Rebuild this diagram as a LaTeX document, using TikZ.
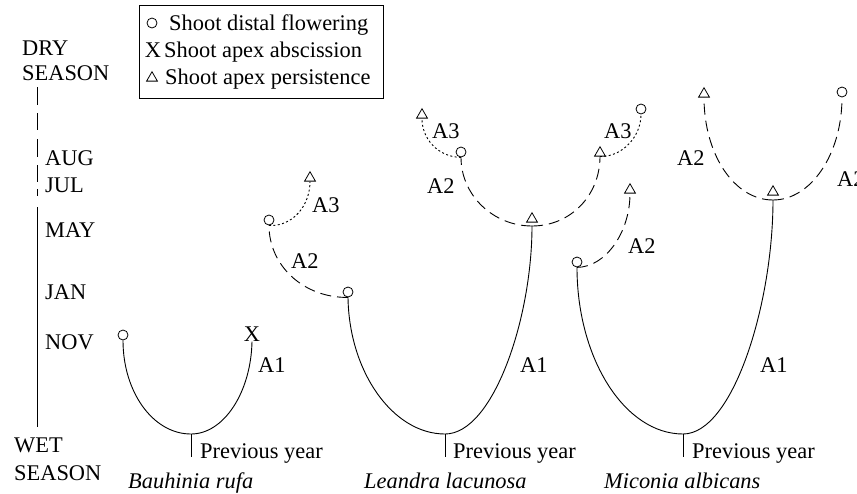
\documentclass[tikz,border=0pt]{standalone}
\usepackage{fontspec}
\setmainfont{Liberation Serif}
\usetikzlibrary{shapes.geometric}
\begin{document}
\begin{tikzpicture}[x=1pt,y=-1pt,
  lbl/.style={anchor=base west, inner sep=0pt, font=\fontsize{22.4}{26}\selectfont},
  fl/.style={draw, circle, minimum size=10pt, inner sep=0pt, line width=0.8pt},
  tri/.style={draw, regular polygon, regular polygon sides=3, minimum size=12.5pt, inner sep=0pt, line width=0.8pt},
  br/.style={line width=0.9pt},
  dsh/.style={line width=0.9pt, dash pattern=on 11pt off 6pt},
  dtt/.style={line width=0.9pt, dash pattern=on 2pt off 2.4pt},
]
\useasboundingbox (0,0) rectangle (857,493);
\clip (0,0) rectangle (857,493);

% season axis
\coordinate (ax1a) at (37,87);  \coordinate (ax1b) at (37,105);
\coordinate (ax2a) at (37,113); \coordinate (ax2b) at (37,130);
\coordinate (ax3a) at (37,139); \coordinate (ax3b) at (37,157);
\coordinate (ax4a) at (37,165); \coordinate (ax4b) at (37,182);
\coordinate (ax5a) at (37,189); \coordinate (ax5b) at (37,196);
\coordinate (ax6a) at (37,207); \coordinate (ax6b) at (37,427);
\draw[br] (ax1a) -- (ax1b) (ax2a) -- (ax2b) (ax3a) -- (ax3b)
          (ax4a) -- (ax4b) (ax5a) -- (ax5b) (ax6a) -- (ax6b);
\node[lbl] (dry) at (22,55) {DRY};
\node[lbl] (dryseason) at (22,80) {SEASON};
\node[lbl] (aug) at (45,165) {AUG};
\node[lbl] (jul) at (45,192) {JUL};
\node[lbl] (may) at (45,237) {MAY};
\node[lbl] (jan) at (45,299) {JAN};
\node[lbl] (nov) at (45,349) {NOV};
\node[lbl] (wet) at (14,452) {WET};
\node[lbl] (wetseason) at (14,480) {SEASON};

% legend
\node[draw, line width=0.9pt, minimum width=244pt, minimum height=93pt, anchor=north west, inner sep=0pt] (legend) at (139,5) {};
\node[fl] (legfl) at (152,23) {};
\node[inner sep=0pt, font=\fontsize{22.4}{26}\selectfont] (legx) at (153,50) {X};
\node[tri] (legtri) at (152,78) {};
\node[lbl] (legt1) at (169,30) {Shoot distal flowering};
\node[lbl] (legt2) at (164,57) {Shoot apex abscission};
\node[lbl] (legt3) at (165,84) {Shoot apex persistence};

% ---------- Bauhinia rufa ----------
\node[fl] (bfl) at (123,335) {};
\node[inner sep=0pt, font=\fontsize{22.4}{26}\selectfont] (bx) at (252,334) {X};
\coordinate (bbase) at (191,434);
\coordinate (bstem) at (191,457);
\draw[br] (bfl.south) .. controls (123,392) and (153,434) .. (bbase)
          .. controls (224,434) and (251,392) .. (bx.south);
\draw[br] (bbase) -- (bstem);
\node[lbl] (ba1) at (258,372) {A1};
\node[lbl] (bprev) at (200,458) {Previous year};
\node[lbl] (bname) at (128,488) {\itshape Bauhinia rufa};

\node[fl] (bfl2) at (269,220) {};
\node[tri] (btri) at (310,178) {};
\draw[dtt] (bfl2.south) .. controls (292,227) and (310,206) .. (btri.south);
\node[lbl] (ba3) at (312,212) {A3};
\node[lbl] (ba2) at (291,268) {A2};

% ---------- Leandra lacunosa ----------
\node[fl] (lfl) at (348,292) {};
\draw[dsh] (lfl.south) .. controls (304,298) and (269,266) .. (bfl2.south);
\coordinate (lbase) at (445,434);
\coordinate (lstem) at (445,457);
\coordinate (ljoin) at (532,226);
\node[tri] (ltri) at (532,219) {};
\draw[br] (lfl.south) .. controls (349,372) and (393,434) .. (lbase)
          .. controls (493,434) and (532,319) .. (ljoin);
\draw[br] (lbase) -- (lstem);
\node[fl] (lfl2) at (461,152) {};
\node[tri] (ltri2) at (600,153) {};
\draw[dsh] (ljoin) .. controls (493,226) and (461,195) .. (lfl2.south);
\draw[dsh] (ljoin) .. controls (571,226) and (600,195) .. (ltri2.south);
\node[tri] (ltri1) at (422,115) {};
\node[fl] (lfl3) at (641,109) {};
\draw[dtt] (lfl2.south) .. controls (438,157) and (422,139) .. (ltri1.south);
\draw[dtt] (ltri2.south) .. controls (622,157) and (641,137) .. (lfl3.south);
\node[lbl] (la2) at (427,193) {A2};
\node[lbl] (la3a) at (432,138) {A3};
\node[lbl] (la3b) at (604,138) {A3};
\node[lbl] (la1) at (520,372) {A1};
\node[lbl] (lprev) at (453,458) {Previous year};
\node[lbl] (lname) at (364,488) {\itshape Leandra lacunosa};

% ---------- Miconia albicans ----------
\node[fl] (mfl) at (577,262) {};
\coordinate (mbase) at (683,434);
\coordinate (mstem) at (683,457);
\coordinate (mjoin) at (773,200);
\node[tri] (mtri3) at (773,192) {};
\draw[br] (mfl.south) .. controls (577,359) and (625,434) .. (mbase)
          .. controls (733,434) and (773,304) .. (mjoin);
\draw[br] (mbase) -- (mstem);
\node[tri] (mtri2) at (630,190) {};
\draw[dsh] (mfl.south) .. controls (606,267) and (630,232) .. (mtri2.south);
\node[tri] (mtri1) at (704,94) {};
\node[fl] (mfl2) at (842,92) {};
\draw[dsh] (mjoin) .. controls (734,200) and (704,154) .. (mtri1.south);
\draw[dsh] (mjoin) .. controls (811,200) and (842,154) .. (mfl2.south);
\node[lbl] (ma2a) at (628,253) {A2};
\node[lbl] (ma2b) at (677,165) {A2};
\node[lbl] (ma2c) at (837,186) {A2};
\node[lbl] (ma1) at (760,372) {A1};
\node[lbl] (mprev) at (692,458) {Previous year};
\node[lbl] (mname) at (604,488) {\itshape Miconia albicans};
\end{tikzpicture}
\end{document}
